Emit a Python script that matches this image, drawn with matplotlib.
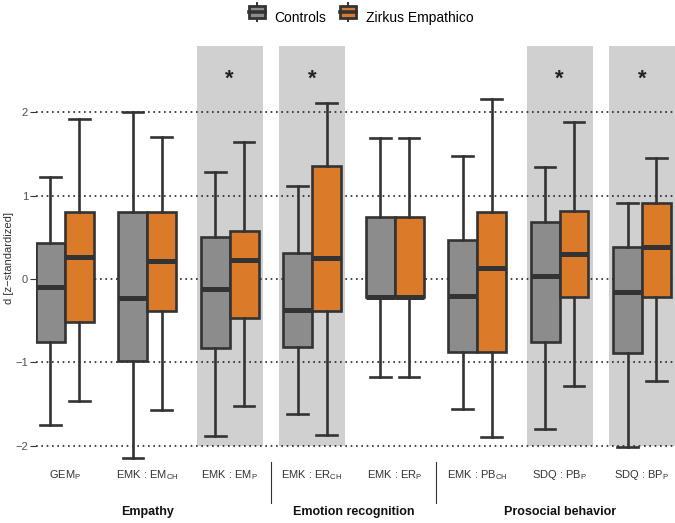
"""Boxplots of effect sizes: Controls vs Zirkus Empathico per outcome measure."""
import matplotlib
matplotlib.use("Agg")
import matplotlib.pyplot as plt
from matplotlib.legend_handler import HandlerBase
from matplotlib.lines import Line2D
from matplotlib.patches import Patch, Rectangle

plt.rcParams["font.family"] = ["Liberation Sans", "DejaVu Sans"]
plt.rcParams["mathtext.fontset"] = "custom"
plt.rcParams["mathtext.rm"] = "Liberation Sans"
plt.rcParams["mathtext.it"] = "Liberation Sans"

labels = [r"GEM$_\mathrm{P}$", r"EMK : EM$_\mathrm{CH}$", r"EMK : EM$_\mathrm{P}$",
          r"EMK : ER$_\mathrm{CH}$", r"EMK : ER$_\mathrm{P}$", r"EMK : PB$_\mathrm{CH}$",
          r"SDQ : PB$_\mathrm{P}$", r"SDQ : BP$_\mathrm{P}$"]
significant = [False, False, True, True, False, False, True, True]
groups = ["Empathy", "Emotion recognition", "Prosocial behavior"]
group_sizes = [3, 2, 3]

ctrl_whislo = [-1.75, -2.15, -1.89, -1.62, -1.18, -1.56, -1.80, -2.02]
ctrl_q1 = [-0.76, -0.98, -0.83, -0.81, -0.22, -0.88, -0.76, -0.89]
ctrl_med = [-0.09, -0.23, -0.12, -0.37, -0.22, -0.20, 0.04, -0.15]
ctrl_q3 = [0.43, 0.81, 0.50, 0.31, 0.74, 0.47, 0.69, 0.38]
ctrl_whishi = [1.22, 2.01, 1.29, 1.12, 1.69, 1.48, 1.35, 0.91]

zirk_whislo = [-1.46, -1.57, -1.53, -1.87, -1.18, -1.90, -1.28, -1.22]
zirk_q1 = [-0.52, -0.38, -0.47, -0.38, -0.22, -0.88, -0.22, -0.22]
zirk_med = [0.27, 0.22, 0.23, 0.25, -0.22, 0.13, 0.30, 0.38]
zirk_q3 = [0.81, 0.81, 0.58, 1.36, 0.74, 0.81, 0.82, 0.91]
zirk_whishi = [1.92, 1.70, 1.65, 2.11, 1.69, 2.16, 1.88, 1.45]

GRAY = "#8C8C8C"
ORANGE = "#DB7A29"
EDGE = "#333333"
SHADE = "#D1D0D1"
YLIM = (-2.17, 2.80)


def stats(lo, q1, med, q3, hi):
    return [dict(whislo=a, q1=b, med=c, q3=d, whishi=e, fliers=[])
            for a, b, c, d, e in zip(lo, q1, med, q3, hi)]


def draw_boxes(ax, st, pos, color):
    ax.bxp(st, positions=pos, widths=0.35, capwidths=0.25, patch_artist=True,
           showfliers=False, manage_ticks=False,
           boxprops=dict(facecolor=color, edgecolor=EDGE, linewidth=1.9),
           medianprops=dict(color=EDGE, linewidth=3.6, solid_capstyle="butt"),
           whiskerprops=dict(color=EDGE, linewidth=1.9),
           capprops=dict(color=EDGE, linewidth=1.9),
           zorder=2)


class BoxKey(HandlerBase):
    def create_artists(self, legend, orig, x0, y0, w, h, fontsize, trans):
        yc = y0 + h / 2 - 0.1 * h
        rect = Rectangle((x0, yc - 0.38 * h), w, 0.76 * h, facecolor=orig.get_facecolor(),
                         edgecolor=EDGE, linewidth=2.0, transform=trans)
        med = Line2D([x0, x0 + w], [yc] * 2, color=EDGE, lw=2.6, transform=trans)
        top = Line2D([x0 + w / 2] * 2, [yc + 0.38 * h, yc + 0.55 * h], color=EDGE, lw=1.4,
                     transform=trans)
        bot = Line2D([x0 + w / 2] * 2, [yc - 0.55 * h, yc - 0.38 * h], color=EDGE, lw=1.4,
                     transform=trans)
        return [top, bot, rect, med]


fig = plt.figure(figsize=(6.75, 5.23), dpi=100)
ax = fig.add_axes([36 / 675, 0.1208, 639 / 675, 0.7918])

x = list(range(1, len(labels) + 1))
shade_x = [xi for xi, s in zip(x, significant) if s]
ax.bar(shade_x, YLIM[1] + 2 + 1, bottom=-2, width=0.8, color=SHADE, zorder=0.1)
for xi in shade_x:
    ax.text(xi, 2.40, "*", ha="center", va="center", fontsize=16, fontweight="bold",
            color="#222222")

draw_boxes(ax, stats(ctrl_whislo, ctrl_q1, ctrl_med, ctrl_q3, ctrl_whishi),
           [xi - 0.175 for xi in x], GRAY)
draw_boxes(ax, stats(zirk_whislo, zirk_q1, zirk_med, zirk_q3, zirk_whishi),
           [xi + 0.175 for xi in x], ORANGE)

ax.set_xlim(0.65, 8.4)
ax.set_ylim(*YLIM)
ax.set_yticks([-2, -1, 0, 1, 2])
ax.set_xticks(x)
ax.set_xticklabels(labels)
ax.tick_params(axis="x", length=0, pad=6, labelsize=8, labelcolor="#333333")
ax.tick_params(axis="y", length=4.3, width=0.8, color="#333333", pad=1.5,
               labelsize=8, labelcolor="#4D4D4D")
ax.set_axisbelow(True)
ax.grid(axis="y", color="#222222", linestyle=(0, (1, 2.2)), linewidth=1.2)
ax.grid(axis="x", visible=False)
for sp in ax.spines.values():
    sp.set_visible(False)

# group separators and group titles under the tick labels
trans = ax.get_xaxis_transform()
start = 0
for name, n in zip(groups, group_sizes):
    mid = (x[start] + x[start + n - 1]) / 2
    ax.text(mid, -0.126, name, transform=trans, ha="center", va="center",
            fontsize=9, fontweight="bold", color="#111111")
    if start > 0:
        bx = x[start] - 0.5
        ax.plot([bx, bx], [-0.005, -0.104], transform=trans, color="#333333",
                lw=0.8, clip_on=False)
    start += n

fig.text(9 / 675, 0.5 - 0.5 * (254 - 261.5) / 523, "d [z\u2212standardized]", rotation=90,
         ha="center", va="center", fontsize=8, color="#333333")

handles = [Patch(facecolor=GRAY), Patch(facecolor=ORANGE)]
fig.legend(handles, ["Controls", "Zirkus Empathico"], loc="center",
           bbox_to_anchor=(361 / 675, 1 - 17 / 523), ncol=2, frameon=False,
           fontsize=10, handlelength=1.15, handleheight=1.4, handletextpad=0.7,
           columnspacing=1.0, handler_map={Patch: BoxKey()})

fig.savefig("out.png", dpi=100)
